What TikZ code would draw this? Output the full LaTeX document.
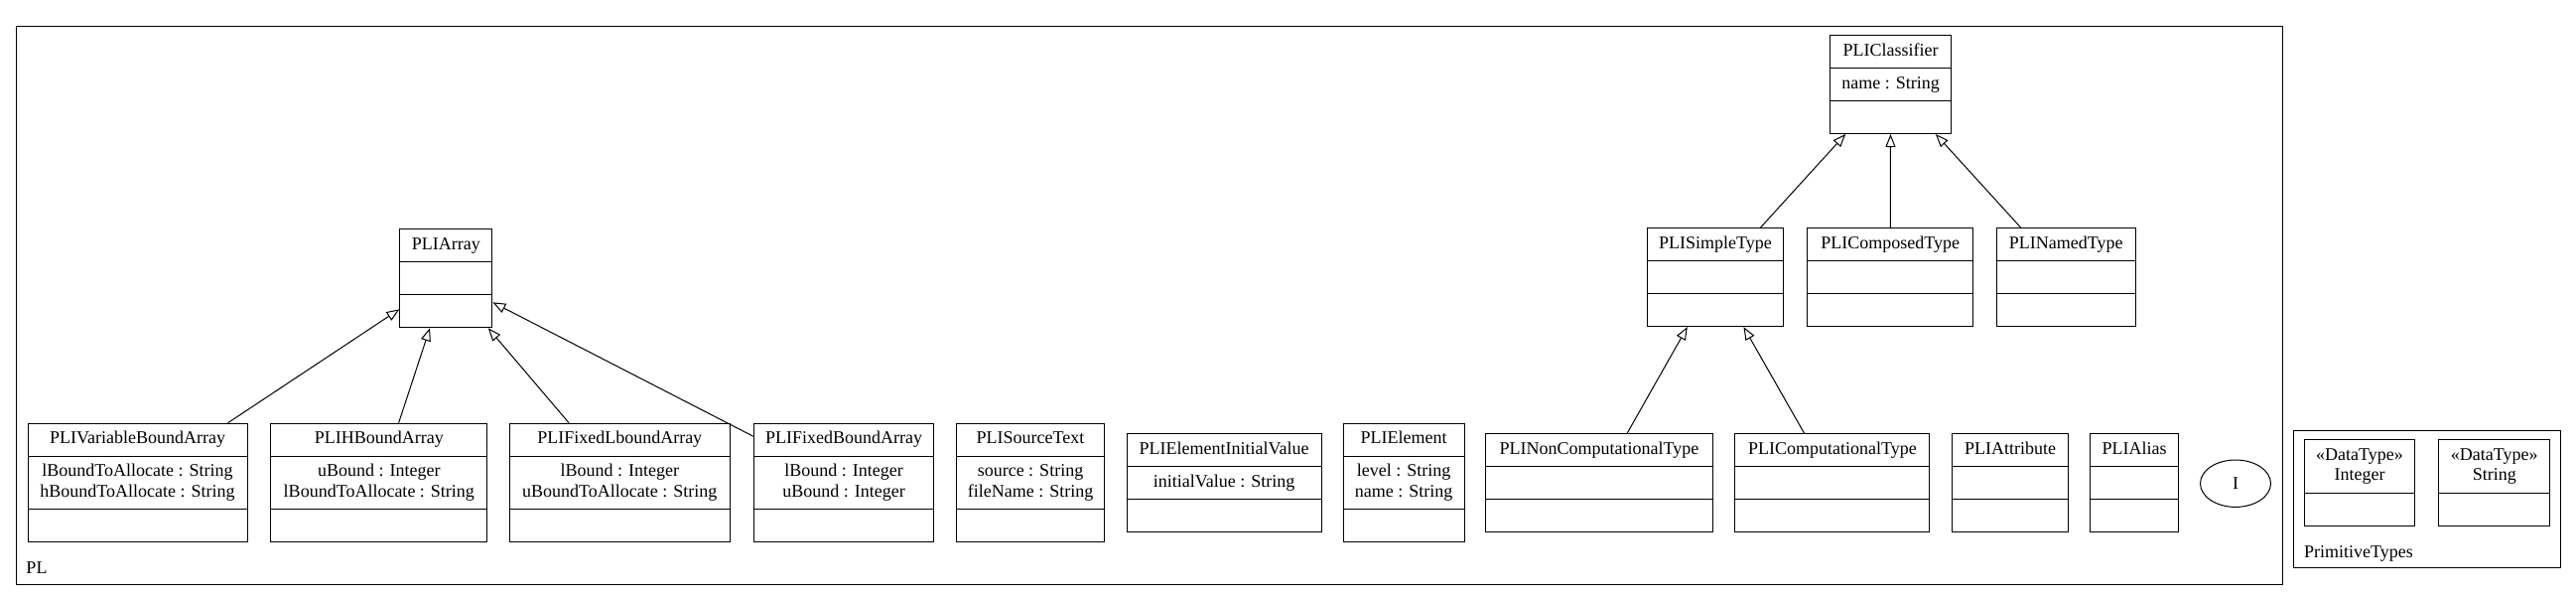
\documentclass[tikz,border=0pt]{standalone}
\usepackage{fontspec}
\setmainfont{Liberation Serif}
\usetikzlibrary{arrows.meta,shapes.multipart,shapes.geometric}

\begin{document}
\begin{tikzpicture}[x=1pt,y=-1pt,>={Triangle[open,length=13pt,width=10pt]},line width=1pt,
        font=\fontsize{18}{20.7}\selectfont,
        umlclass/.style={rectangle split,rectangle split parts=3,draw,align=center,anchor=west,
            inner xsep=3pt,inner ysep=5.65pt,rectangle split ignore empty parts=false,
            rectangle split empty part height=14.49pt,rectangle split empty part depth=6.21pt},
        datatype/.style={umlclass,rectangle split parts=2},
        package/.style={draw,anchor=north west,inner sep=0pt},
        pkglabel/.style={anchor=base west,inner sep=0pt}]

            \useasboundingbox (0,0) rectangle (2595,603);

            \node[package,minimum width=2282.7pt,minimum height=562pt] (pl) at (16.3,26) {};

            \node[pkglabel] (pllabel) at (26,577) {PL};

            \node[package,minimum width=269pt,minimum height=138.3pt] (prim) at (2310.3,432.7) {};

            \node[pkglabel] (primlabel) at (2320.7,561.7) {PrimitiveTypes};

            \node[umlclass,minimum width=121.3pt] (classifier) at (1843.4,85)
                {\strut PLIClassifier\nodepart{two}\strut name : String\nodepart{three}\strut};

            \node[umlclass,minimum width=137.7pt] (simple) at (1658.7,279.1)
                {\strut PLISimpleType\nodepart{two}\strut\nodepart{three}\strut};

            \node[umlclass,minimum width=166.8pt] (composed) at (1820.4,279.1)
                {\strut PLIComposedType\nodepart{two}\strut\nodepart{three}\strut};

            \node[umlclass,minimum width=139.8pt] (named) at (2010.7,279.1)
                {\strut PLINamedType\nodepart{two}\strut\nodepart{three}\strut};

            \node[umlclass,minimum width=93pt] (array) at (402.4,280.3)
                {\strut PLIArray\nodepart{two}\strut\nodepart{three}\strut};

            \node[umlclass,minimum width=220.9pt] (varbound) at (27.6,486)
                {\strut PLIVariableBoundArray\nodepart{two}\strut lBoundToAllocate : String\\\strut hBoundToAllocate : String\nodepart{three}\strut};

            \node[umlclass,minimum width=217.9pt] (hbound) at (272.4,486)
                {\strut PLIHBoundArray\nodepart{two}\strut uBound : Integer\\\strut lBoundToAllocate : String\nodepart{three}\strut};

            \node[umlclass,minimum width=221.9pt] (fixedl) at (512.8,486)
                {\strut PLIFixedLboundArray\nodepart{two}\strut lBound : Integer\\\strut uBoundToAllocate : String\nodepart{three}\strut};

            \node[umlclass,minimum width=181.6pt] (fixedb) at (758.7,486)
                {\strut PLIFixedBoundArray\nodepart{two}\strut lBound : Integer\\\strut uBound : Integer\nodepart{three}\strut};

            \node[umlclass,minimum width=148.4pt] (source) at (963.3,486)
                {\strut PLISourceText\nodepart{two}\strut source : String\\\strut fileName : String\nodepart{three}\strut};

            \node[umlclass,minimum width=195.9pt] (initval) at (1134.7,486)
                {\strut PLIElementInitialValue\nodepart{two}\strut initialValue : String\nodepart{three}\strut};

            \node[umlclass,minimum width=121.9pt] (element) at (1352.6,486)
                {\strut PLIElement\nodepart{two}\strut level : String\\\strut name : String\nodepart{three}\strut};

            \node[umlclass,minimum width=228.1pt] (noncomp) at (1496.4,486)
                {\strut PLINonComputationalType\nodepart{two}\strut\nodepart{three}\strut};

            \node[umlclass,minimum width=196pt] (comp) at (1747.4,486)
                {\strut PLIComputationalType\nodepart{two}\strut\nodepart{three}\strut};

            \node[umlclass,minimum width=116.4pt] (attribute) at (1966.3,486)
                {\strut PLIAttribute\nodepart{two}\strut\nodepart{three}\strut};

            \node[umlclass,minimum width=89.8pt] (alias) at (2104.6,486)
                {\strut PLIAlias\nodepart{two}\strut\nodepart{three}\strut};

            \node[ellipse,draw,minimum width=71pt,minimum height=47.4pt,inner sep=0pt] (iface) at (2252,486.7) {I};

            \node[datatype,minimum width=111.6pt] (integer) at (2320.7,485.8)
                {\strut «DataType»\\\strut Integer\nodepart{two}\strut};

            \node[datatype,minimum width=112pt] (string) at (2456.3,485.8)
                {\strut «DataType»\\\strut String\nodepart{two}\strut};

            \path[->] (varbound) edge (array)
                      (hbound) edge (array)
                      (fixedl) edge (array)
                      (fixedb) edge (array)
                      (simple) edge (classifier)
                      (composed) edge (classifier)
                      (named) edge (classifier)
                      (noncomp) edge (simple)
                      (comp) edge (simple);

        \end{tikzpicture}
\end{document}
